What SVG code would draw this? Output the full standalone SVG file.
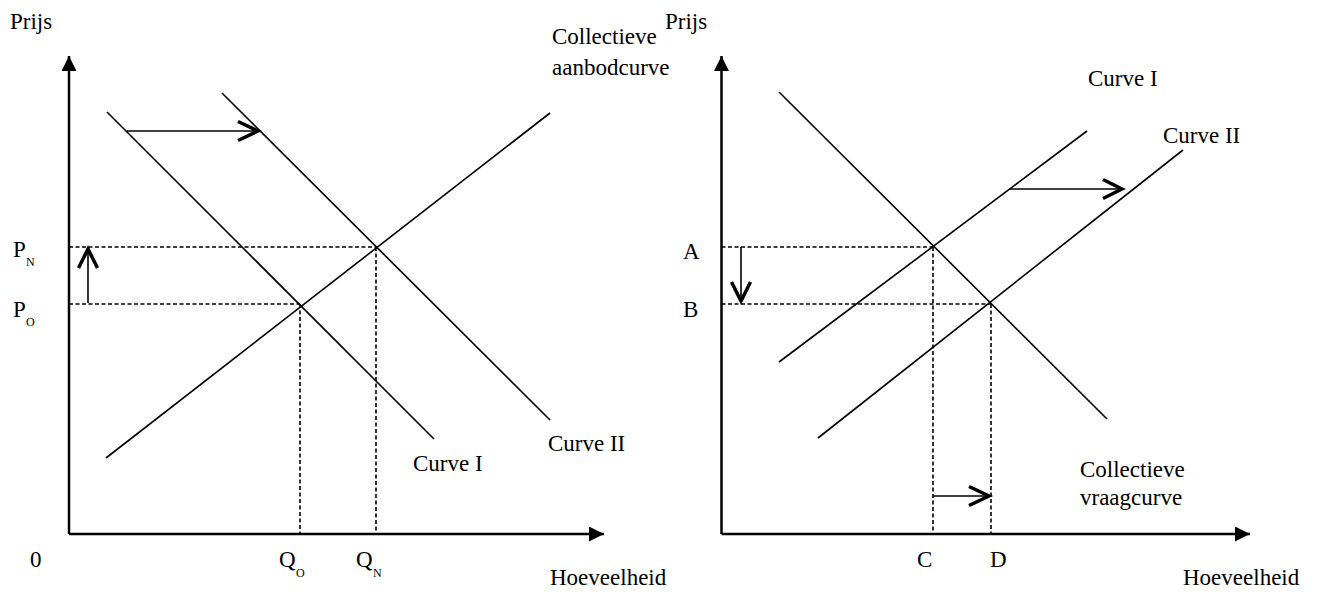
<svg xmlns="http://www.w3.org/2000/svg" width="1322" height="592" viewBox="0 0 1322 592">
<style>
text{font-family:"Liberation Serif","Times New Roman",serif;font-size:23px;fill:#000}
.sub{font-size:12px}
.axis{stroke:#000;stroke-width:2.5;fill:none}
.curve{stroke:#000;stroke-width:1.6;fill:none}
.dash{stroke:#000;stroke-width:1.6;stroke-dasharray:4 2.5;fill:none}
.shaft{stroke:#000;stroke-width:1.6;fill:none}
.head{stroke:#000;stroke-width:3.5;fill:none;stroke-linecap:butt;stroke-linejoin:miter}
</style>
<defs>
<marker id="tri" viewBox="0 0 10 10" refX="10" refY="5" markerWidth="6" markerHeight="6" orient="auto" markerUnits="strokeWidth">
<path d="M0,0 L10,5 L0,10 z" fill="#000"/>
</marker>
</defs>
<g id="left-axes">
<line class="axis" x1="69" y1="534" x2="69" y2="56" marker-end="url(#tri)"/>
<line class="axis" x1="69" y1="534" x2="604" y2="534" marker-end="url(#tri)"/>
<text x="10" y="29">Prijs</text>
<text x="30" y="567">0</text>
<text x="550" y="585">Hoeveelheid</text>
<text x="13" y="257">P</text><text class="sub" x="26" y="266">N</text>
<text x="13" y="317">P</text><text class="sub" x="26" y="326">O</text>
<text x="279" y="567">Q</text><text class="sub" x="296" y="577">O</text>
<text x="356" y="567">Q</text><text class="sub" x="373" y="577">N</text>
</g>
<g id="left-curve-I">
<line class="curve" x1="107" y1="112" x2="434" y2="439"/>
<text x="413" y="471">Curve I</text>
</g>
<g id="left-curve-II">
<line class="curve" x1="222" y1="93" x2="550" y2="420"/>
<text x="548" y="451">Curve II</text>
</g>
<g id="left-supply">
<line class="curve" x1="106" y1="458" x2="550" y2="113"/>
<text x="552" y="44">Collectieve</text>
<text x="552" y="75">aanbodcurve</text>
</g>
<g id="right-axes">
<line class="axis" x1="721.5" y1="534" x2="721.5" y2="56" marker-end="url(#tri)"/>
<line class="axis" x1="721.5" y1="534" x2="1250" y2="534" marker-end="url(#tri)"/>
<text x="665" y="29">Prijs</text>
<text x="1183" y="585">Hoeveelheid</text>
<text x="683" y="259">A</text>
<text x="683" y="317">B</text>
<text x="917" y="567">C</text>
<text x="990" y="567">D</text>
</g>
<g id="right-demand">
<line class="curve" x1="779" y1="92" x2="1107" y2="419"/>
<text x="1080" y="477">Collectieve</text>
<text x="1080" y="505">vraagcurve</text>
</g>
<g id="right-curve-I">
<line class="curve" x1="779" y1="362" x2="1087" y2="131"/>
<text x="1088" y="86">Curve I</text>
</g>
<g id="right-curve-II">
<line class="curve" x1="818" y1="438" x2="1183" y2="150"/>
<text x="1163" y="143">Curve II</text>
</g>
<g id="connectors">
<path class="dash" d="M69,247 H376 M376,247 V534 M69,304 H300 M300,304 V534"/>
<path class="dash" d="M721.5,247 H933 M933,247 V534 M721.5,304 H991 M991,304 V534"/>
<line class="shaft" x1="127" y1="131" x2="258" y2="131"/>
<path class="head" d="M238,121.5 L258,131 L238,140.5"/>
<line class="shaft" x1="88" y1="303" x2="88" y2="250"/>
<path class="head" d="M78.5,268 L88,249 L97.5,268"/>
<line class="shaft" x1="1010" y1="189" x2="1122" y2="189"/>
<path class="head" d="M1103,179.5 L1122,189 L1103,198.5"/>
<line class="shaft" x1="741" y1="247" x2="741" y2="301"/>
<path class="head" d="M731.5,282 L741,301 L750.5,282"/>
<line class="shaft" x1="933" y1="496" x2="989" y2="496"/>
<path class="head" d="M969,486.5 L989,496 L969,505.5"/>
</g>
</svg>
